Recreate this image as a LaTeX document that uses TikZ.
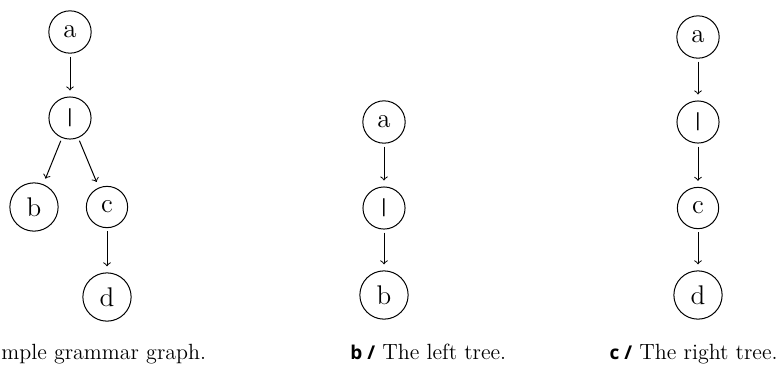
\documentclass[tikz,border=0pt]{standalone}
\usepackage{fontspec}
\newfontfamily\capsans{Open Sans}
\newfontfamily\barfont{DejaVu Sans}
\newcommand{\barsym}{{\fontsize{9}{9}\selectfont\barfont |}}
\newcommand{\caplabel}[1]{{\fontsize{9.5}{11}\selectfont\capsans\bfseries #1}}
\begin{document}
\begin{tikzpicture}[x=0.5pt,y=-0.5pt,
  tnode/.style={draw, circle, inner sep=4.3pt, font=\fontsize{13.5}{15}\selectfont, line width=0.5pt},
  edge/.style={->, line width=0.5pt, shorten <=1.5pt, shorten >=3pt},
  caption/.style={font=\fontsize{11}{13}\selectfont, inner sep=0pt}]
\useasboundingbox (0,0) rectangle (780,371);

% grammar graph
\node[tnode] (ga) at (70,32) {a};
\node[tnode] (gbar) at (70,118) {\barsym};
\node[tnode] (gb) at (34,207) {b};
\node[tnode] (gc) at (107,207) {c};
\node[tnode] (gd) at (107,297) {d};
\draw[edge] (ga) -- (gbar);
\draw[edge] (gbar) -- (gb);
\draw[edge] (gbar) -- (gc);
\draw[edge] (gc) -- (gd);

% left tree
\node[tnode] (la) at (384,122) {a};
\node[tnode] (lbar) at (384,208) {\barsym};
\node[tnode] (lb) at (384,295) {b};
\draw[edge] (la) -- (lbar);
\draw[edge] (lbar) -- (lb);

% right tree
\node[tnode] (ra) at (698,37) {a};
\node[tnode] (rbar) at (698,122) {\barsym};
\node[tnode] (rc) at (698,208) {c};
\node[tnode] (rd) at (698,295) {d};
\draw[edge] (ra) -- (rbar);
\draw[edge] (rbar) -- (rc);
\draw[edge] (rc) -- (rd);

% captions
\node[caption, anchor=base west] (capa) at (1,359) {mple grammar graph.};
\node[caption, anchor=base west] (capb) at (350,359) {\caplabel{b /} The left tree.};
\node[caption, anchor=base east] (capc) at (778,359) {\caplabel{c /} The right tree.};
\end{tikzpicture}
\end{document}
